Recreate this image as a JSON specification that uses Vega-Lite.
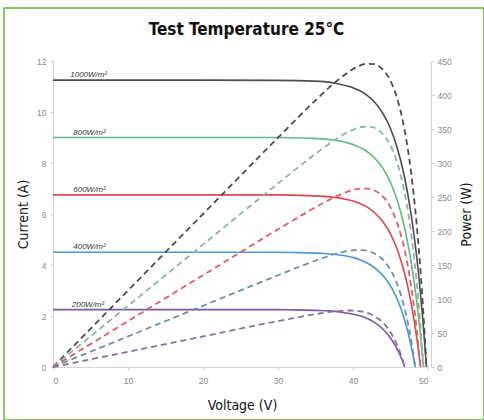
{
  "$schema": "https://vega.github.io/schema/vega-lite/v6.json",
  "autosize": {"type": "none"},
  "padding": {"left": 4, "top": 8, "right": 0, "bottom": 0},
  "width": 480,
  "height": 412,
  "background": "white",
  "config": {
    "view": {"stroke": "#5cb82e", "strokeWidth": 1.5},
    "axis": {"grid": false, "domainColor": "#d4d4d4", "tickColor": "#cfcfcf", "tickSize": 3, "labelFont": "Liberation Sans", "labelFontSize": 8.5, "labelColor": "#8a8a8a", "titleFont": "DejaVu Sans Condensed, Roboto, sans-serif", "titleFontSize": 14, "titleFontWeight": "normal", "titleColor": "#111111"}
  },
  "datasets": {
    "curves": [
      {"G": "1000", "V": 0, "I": 11.25, "P": 0},
      {"G": "1000", "V": 10, "I": 11.25, "P": 112.5},
      {"G": "1000", "V": 20, "I": 11.25, "P": 225},
      {"G": "1000", "V": 30, "I": 11.24, "P": 337.2},
      {"G": "1000", "V": 34.8, "I": 11.21, "P": 390.0},
      {"G": "1000", "V": 37.8, "I": 11.12, "P": 420.3},
      {"G": "1000", "V": 39.8, "I": 10.97, "P": 436.7},
      {"G": "1000", "V": 40.8, "I": 10.85, "P": 442.6},
      {"G": "1000", "V": 41.8, "I": 10.67, "P": 445.9},
      {"G": "1000", "V": 42.8, "I": 10.41, "P": 445.5},
      {"G": "1000", "V": 43.8, "I": 10.03, "P": 439.3},
      {"G": "1000", "V": 44.8, "I": 9.49, "P": 424.9},
      {"G": "1000", "V": 45.8, "I": 8.69, "P": 398.1},
      {"G": "1000", "V": 46.8, "I": 7.55, "P": 353.2},
      {"G": "1000", "V": 47.8, "I": 5.89, "P": 281.4},
      {"G": "1000", "V": 48.3, "I": 4.80, "P": 231.6},
      {"G": "1000", "V": 48.8, "I": 3.48, "P": 169.9},
      {"G": "1000", "V": 49.3, "I": 1.90, "P": 93.7},
      {"G": "1000", "V": 49.8, "I": 0, "P": 0},
      {"G": "800", "V": 0, "I": 9.0, "P": 0},
      {"G": "800", "V": 10, "I": 9.0, "P": 90},
      {"G": "800", "V": 20, "I": 9.0, "P": 180},
      {"G": "800", "V": 30, "I": 9.0, "P": 269.9},
      {"G": "800", "V": 34.4, "I": 8.97, "P": 308.4},
      {"G": "800", "V": 37.4, "I": 8.90, "P": 332.7},
      {"G": "800", "V": 39.4, "I": 8.78, "P": 345.9},
      {"G": "800", "V": 40.4, "I": 8.68, "P": 350.6},
      {"G": "800", "V": 41.4, "I": 8.54, "P": 353.3},
      {"G": "800", "V": 42.4, "I": 8.33, "P": 353.1},
      {"G": "800", "V": 43.4, "I": 8.02, "P": 348.3},
      {"G": "800", "V": 44.4, "I": 7.59, "P": 336.9},
      {"G": "800", "V": 45.4, "I": 6.95, "P": 315.7},
      {"G": "800", "V": 46.4, "I": 6.04, "P": 280.1},
      {"G": "800", "V": 47.4, "I": 4.71, "P": 223.3},
      {"G": "800", "V": 47.9, "I": 3.84, "P": 183.7},
      {"G": "800", "V": 48.4, "I": 2.79, "P": 134.8},
      {"G": "800", "V": 48.9, "I": 1.52, "P": 74.4},
      {"G": "800", "V": 49.4, "I": 0, "P": 0},
      {"G": "600", "V": 0, "I": 6.75, "P": 0},
      {"G": "600", "V": 10, "I": 6.75, "P": 67.5},
      {"G": "600", "V": 20, "I": 6.75, "P": 135},
      {"G": "600", "V": 30, "I": 6.75, "P": 202.4},
      {"G": "600", "V": 34, "I": 6.72, "P": 228.6},
      {"G": "600", "V": 37, "I": 6.67, "P": 246.8},
      {"G": "600", "V": 39, "I": 6.58, "P": 256.8},
      {"G": "600", "V": 40, "I": 6.51, "P": 260.4},
      {"G": "600", "V": 41, "I": 6.40, "P": 262.4},
      {"G": "600", "V": 42, "I": 6.25, "P": 262.3},
      {"G": "600", "V": 43, "I": 6.02, "P": 258.8},
      {"G": "600", "V": 44, "I": 5.69, "P": 250.4},
      {"G": "600", "V": 45, "I": 5.22, "P": 234.7},
      {"G": "600", "V": 46, "I": 4.53, "P": 208.3},
      {"G": "600", "V": 47, "I": 3.53, "P": 166.0},
      {"G": "600", "V": 47.5, "I": 2.88, "P": 136.7},
      {"G": "600", "V": 48, "I": 2.09, "P": 100.3},
      {"G": "600", "V": 48.5, "I": 1.14, "P": 55.3},
      {"G": "600", "V": 49, "I": 0, "P": 0},
      {"G": "400", "V": 0, "I": 4.5, "P": 0},
      {"G": "400", "V": 10, "I": 4.5, "P": 45},
      {"G": "400", "V": 20, "I": 4.5, "P": 90},
      {"G": "400", "V": 30, "I": 4.5, "P": 134.9},
      {"G": "400", "V": 33.3, "I": 4.48, "P": 149.3},
      {"G": "400", "V": 36.3, "I": 4.45, "P": 161.4},
      {"G": "400", "V": 38.3, "I": 4.39, "P": 168.1},
      {"G": "400", "V": 39.3, "I": 4.34, "P": 170.5},
      {"G": "400", "V": 40.3, "I": 4.27, "P": 172.0},
      {"G": "400", "V": 41.3, "I": 4.16, "P": 171.9},
      {"G": "400", "V": 42.3, "I": 4.01, "P": 169.7},
      {"G": "400", "V": 43.3, "I": 3.79, "P": 164.3},
      {"G": "400", "V": 44.3, "I": 3.48, "P": 154.0},
      {"G": "400", "V": 45.3, "I": 3.02, "P": 136.8},
      {"G": "400", "V": 46.3, "I": 2.36, "P": 109.0},
      {"G": "400", "V": 46.8, "I": 1.92, "P": 89.8},
      {"G": "400", "V": 47.3, "I": 1.39, "P": 65.9},
      {"G": "400", "V": 47.8, "I": 0.76, "P": 36.4},
      {"G": "400", "V": 48.3, "I": 0, "P": 0},
      {"G": "200", "V": 0, "I": 2.25, "P": 0},
      {"G": "200", "V": 10, "I": 2.25, "P": 22.5},
      {"G": "200", "V": 20, "I": 2.25, "P": 45},
      {"G": "200", "V": 30, "I": 2.25, "P": 67.5},
      {"G": "200", "V": 31.9, "I": 2.24, "P": 71.5},
      {"G": "200", "V": 34.9, "I": 2.22, "P": 77.6},
      {"G": "200", "V": 36.9, "I": 2.20, "P": 81.0},
      {"G": "200", "V": 37.9, "I": 2.17, "P": 82.2},
      {"G": "200", "V": 38.9, "I": 2.13, "P": 83.0},
      {"G": "200", "V": 39.9, "I": 2.08, "P": 83.1},
      {"G": "200", "V": 40.9, "I": 2.01, "P": 82.0},
      {"G": "200", "V": 41.9, "I": 1.90, "P": 79.5},
      {"G": "200", "V": 42.9, "I": 1.74, "P": 74.6},
      {"G": "200", "V": 43.9, "I": 1.51, "P": 66.3},
      {"G": "200", "V": 44.9, "I": 1.18, "P": 52.9},
      {"G": "200", "V": 45.4, "I": 0.96, "P": 43.5},
      {"G": "200", "V": 45.9, "I": 0.70, "P": 32.0},
      {"G": "200", "V": 46.4, "I": 0.38, "P": 17.6},
      {"G": "200", "V": 46.9, "I": 0, "P": 0}
    ],
    "labels": [
      {"label": "1000W/m²", "V": 2.3, "I": 11.25},
      {"label": "800W/m²", "V": 2.7, "I": 9.0},
      {"label": "600W/m²", "V": 2.7, "I": 6.75},
      {"label": "400W/m²", "V": 2.7, "I": 4.5},
      {"label": "200W/m²", "V": 2.5, "I": 2.25}
    ]
  },
  "layer": [
    {
      "layer": [
        {
          "data": {"name": "curves"},
          "mark": {"type": "line", "interpolate": "monotone", "strokeWidth": 1.6},
          "encoding": {
            "x": {"field": "V", "type": "quantitative", "scale": {"domain": [0, 50], "range": [49, 424]}, "axis": {"title": "Voltage (V)", "values": [0, 10, 20, 30, 40, 50], "offset": -53, "titleX": 238, "titleY": 38, "titleBaseline": "middle", "titleAlign": "center", "labelPadding": 6}},
            "y": {"field": "I", "type": "quantitative", "scale": {"domain": [0, 12], "range": [359, 53]}, "axis": {"title": "Current (A)", "values": [0, 2, 4, 6, 8, 10, 12], "offset": -49, "titleX": -30, "titleY": 206, "titleAngle": 270, "titleBaseline": "middle", "titleAlign": "center", "labelPadding": 4}},
            "color": {"field": "G", "type": "nominal", "scale": {"domain": ["1000", "800", "600", "400", "200"], "range": ["#4d4d4d", "#5dbb7e", "#e0474c", "#4f95d6", "#7b58a8"]}, "legend": null}
          }
        },
        {
          "data": {"name": "labels"},
          "mark": {"type": "text", "align": "left", "baseline": "bottom", "dy": -1, "font": "Liberation Sans", "fontSize": 8, "fontStyle": "italic", "color": "#333333"},
          "encoding": {
            "x": {"field": "V", "type": "quantitative"},
            "y": {"field": "I", "type": "quantitative"},
            "text": {"field": "label"}
          }
        }
      ]
    },
    {
      "data": {"name": "curves"},
      "mark": {"type": "line", "interpolate": "monotone", "strokeWidth": 1.8, "strokeDash": [6, 4]},
      "encoding": {
        "x": {"field": "V", "type": "quantitative", "axis": {"orient": "top", "domain": false, "ticks": false, "labels": false, "title": "Test Temperature 25°C", "titleX": 242, "titleY": 26, "titleAngle": 0, "titleBaseline": "alphabetic", "titleAlign": "center", "titleFontSize": 17, "titleFontWeight": "bold", "titleColor": "#111111"}},
        "y": {"field": "P", "type": "quantitative", "scale": {"domain": [0, 450], "range": [359, 53]}, "axis": {"orient": "right", "title": "Power (W)", "values": [0, 50, 100, 150, 200, 250, 300, 350, 400, 450], "offset": -53, "titleX": 35, "titleY": 206, "titleAngle": 270, "titleBaseline": "middle", "titleAlign": "center", "labelPadding": 3}},
        "color": {"field": "G", "type": "nominal", "scale": {"domain": ["1000", "800", "600", "400", "200"], "range": ["#4d4d4d", "#8fb59c", "#e25c6a", "#6f8fab", "#8a7399"]}, "legend": null}
      }
    }
  ],
  "resolve": {"scale": {"y": "independent", "color": "independent"}, "axis": {"x": "independent"}}
}
